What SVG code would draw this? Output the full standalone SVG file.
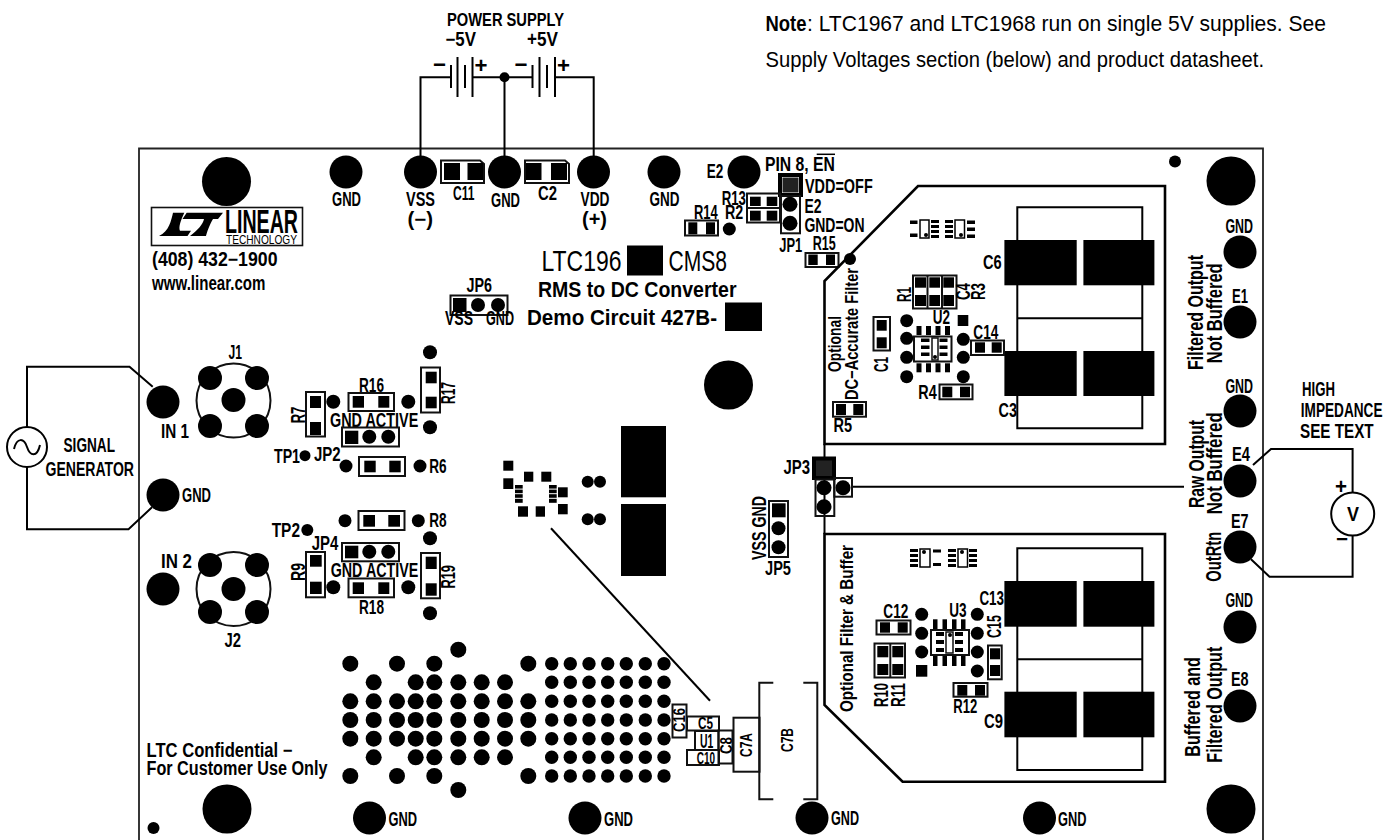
<svg xmlns="http://www.w3.org/2000/svg" width="1395" height="840" viewBox="0 0 1395 840">
<style>
text{font-family:"Liberation Sans Narrow","Liberation Sans",Arial,sans-serif;font-weight:bold;font-size:19.5px;fill:#000}
.n{font-weight:normal}
.s{font-size:16px}
.f{font-size:18px}
.m{font-size:22px}
.l{font-size:30px;font-weight:normal}
.w{fill:none;stroke:#000;stroke-width:2}
.o{fill:none;stroke:#111;stroke-width:2}
.z{fill:none;stroke:#000;stroke-width:2.6}
.e{stroke:#000;stroke-width:3;fill:none}
</style>
<defs>
<circle id="h" r="24.5"/>
<circle id="p" r="16.5"/>
<circle id="d" r="6.5"/>
<circle id="c" r="7"/>
<circle id="pin" r="12"/>
<circle id="v8" r="8"/>
<circle id="v6" r="6.7"/>
</defs>
<rect width="1395" height="840" fill="#fff"/>
<g id="board"><path d="M139 845V148.5H1263V845" fill="none" stroke="#222" stroke-width="1.8"/></g>

<g id="note">
<text class="m" x="765.5" y="31" textLength="41" lengthAdjust="spacingAndGlyphs">Note</text>
<text class="m n" x="807" y="31" textLength="519" lengthAdjust="spacingAndGlyphs">: LTC1967 and LTC1968 run on single 5V supplies. See</text>
<text class="m n" x="765.5" y="67" textLength="498.5" lengthAdjust="spacingAndGlyphs">Supply Voltages section (below) and product datasheet.</text>
</g>

<g id="connectors">
<path class="w" d="M420.5 172V77.3H451M472.5 77.3H532.5M555 77.3H593.7V172M504.5 77.3V172"/>
<path class="w" d="M451 65V88M457.5 57V97M465 65V88M472.5 57V97M532.5 65V88M539.5 57V97M547 65V88M555 57V97"/>
<circle cx="504.5" cy="77.3" r="5"/>
<path class="w" d="M152.7 386.7L129.5 366.7H27V427M27 467V529.3H128.5L152 507.3"/>
<path class="w" d="M1253 465L1271 449H1352.6V492.7M1352.6 535V576.7H1269.5L1251 559.3"/>
<path class="w" d="M852 486.7H1184"/>
<path class="w" d="M551 528.3L710 700.7"/>
<path class="w" d="M824.5 444V534"/>
</g>

<g id="power-supply">
<text class="f" x="447" y="25.5" textLength="117" lengthAdjust="spacingAndGlyphs">POWER SUPPLY</text>
<text x="445.5" y="46" textLength="30.5" lengthAdjust="spacingAndGlyphs">−5V</text>
<text x="527" y="46" textLength="31" lengthAdjust="spacingAndGlyphs">+5V</text>
<text x="433" y="72" textLength="13" lengthAdjust="spacingAndGlyphs" style="font-size:22px">−</text>
<text x="474.5" y="73" textLength="13" lengthAdjust="spacingAndGlyphs" style="font-size:22px">+</text>
<text x="514.5" y="72" textLength="13" lengthAdjust="spacingAndGlyphs" style="font-size:22px">−</text>
<text x="557" y="73" textLength="13" lengthAdjust="spacingAndGlyphs" style="font-size:22px">+</text>
</g>

<g id="signal-generator">
<circle class="w" cx="27" cy="447" r="20"/>
<path class="w" d="M14 449C17 437 24 438 27 447S37 458 40 445"/>
<text x="63.5" y="452" textLength="51.5" lengthAdjust="spacingAndGlyphs">SIGNAL</text>
<text x="45.5" y="475.7" textLength="88.5" lengthAdjust="spacingAndGlyphs">GENERATOR</text>
</g>

<g id="voltmeter">
<circle class="w" cx="1352.7" cy="514" r="21.5"/>
<text x="1347" y="521" textLength="12" lengthAdjust="spacingAndGlyphs">V</text>
<text x="1335" y="494" textLength="12" lengthAdjust="spacingAndGlyphs" style="font-size:22px">+</text>
<text x="1336" y="546" textLength="12" lengthAdjust="spacingAndGlyphs" style="font-size:20px">−</text>
<text x="1302" y="396" textLength="33" lengthAdjust="spacingAndGlyphs">HIGH</text>
<text x="1300.8" y="416.7" textLength="81.7" lengthAdjust="spacingAndGlyphs">IMPEDANCE</text>
<text x="1300" y="438" textLength="73.6" lengthAdjust="spacingAndGlyphs">SEE TEXT</text>
</g>

<g id="holes">
<use href="#h" x="226.5" y="181.5"/><use href="#h" x="1231" y="181"/><use href="#h" x="227" y="809"/><use href="#h" x="1231" y="809"/><use href="#h" x="728.5" y="385"/>
<circle cx="1175" cy="161.5" r="6"/><circle cx="153.5" cy="828" r="6"/>
</g>

<g id="logo">
<rect x="151.5" y="207.5" width="151" height="38" fill="#fff" stroke="#111" stroke-width="1.6"/>
<path d="M173 212.7H184.3C181 220 178.3 226.7 180 230.7H191L187.5 236H159C169 231.7 171.3 220 173 212.7Z"/>
<path d="M186.7 212.7H223L218 219H213C209 226 207 232 206 236H190C198 230 203 224 204 219H182.5Z"/>
<text x="225" y="232.5" textLength="73" lengthAdjust="spacingAndGlyphs" style="font-size:33px">LINEAR</text>
<text class="n" x="226" y="244" textLength="71" lengthAdjust="spacingAndGlyphs" style="font-size:13px">TECHNOLOGY</text>
</g>

<g id="contact">
<text x="152" y="266" textLength="125.5" lengthAdjust="spacingAndGlyphs">(408) 432−1900</text>
<text x="152" y="289.5" textLength="113.5" lengthAdjust="spacingAndGlyphs">www.linear.com</text>
</g>

<g id="title">
<text class="l" x="541.5" y="271" textLength="80" lengthAdjust="spacingAndGlyphs">LTC196</text>
<rect x="627" y="245.5" width="36" height="30"/>
<text class="l" x="668.5" y="271" textLength="58.5" lengthAdjust="spacingAndGlyphs">CMS8</text>
<text class="m" x="538" y="297" textLength="198.5" lengthAdjust="spacingAndGlyphs">RMS to DC Converter</text>
<text class="m" x="527" y="325" textLength="190" lengthAdjust="spacingAndGlyphs">Demo Circuit 427B-</text>
<rect x="725" y="302.5" width="37" height="28.5"/>
</g>

<g id="top-pads">
<use href="#p" x="346" y="172"/><use href="#p" x="420.5" y="172"/><use href="#p" x="504.5" y="172"/><use href="#p" x="593.5" y="172"/><use href="#p" x="664" y="172"/><use href="#p" x="744" y="172"/>
<text x="332" y="206" textLength="29" lengthAdjust="spacingAndGlyphs">GND</text>
<text x="406" y="206" textLength="29" lengthAdjust="spacingAndGlyphs">VSS</text>
<text x="407.5" y="226" textLength="25.5" lengthAdjust="spacingAndGlyphs">(−)</text>
<text x="491" y="207" textLength="29" lengthAdjust="spacingAndGlyphs">GND</text>
<text x="580.5" y="206" textLength="29" lengthAdjust="spacingAndGlyphs">VDD</text>
<text x="582" y="226" textLength="25" lengthAdjust="spacingAndGlyphs">(+)</text>
<text x="649.5" y="206" textLength="30" lengthAdjust="spacingAndGlyphs">GND</text>
<text x="706.7" y="178.3" textLength="16.6" lengthAdjust="spacingAndGlyphs">E2</text>
</g>

<g id="C11">
<path class="o" d="M441 160.5H480L484 164V183H441Z"/><rect x="444" y="163" width="16" height="17"/><rect x="467.5" y="163" width="15.5" height="17"/>
<text x="453" y="200" textLength="21.5" lengthAdjust="spacingAndGlyphs">C11</text>
</g>
<g id="C2">
<path class="o" d="M525 160.5H565L569 164V183H525Z"/><rect x="526" y="163" width="15.5" height="17"/><rect x="551" y="163" width="16" height="17"/>
<text x="538" y="200" textLength="19" lengthAdjust="spacingAndGlyphs">C2</text>
</g>

<g id="JP6">
<text x="466.5" y="292" textLength="25.5" lengthAdjust="spacingAndGlyphs">JP6</text>
<rect class="o" x="450.5" y="295.5" width="57" height="19.5"/><rect x="453" y="298" width="13.5" height="14"/><use href="#c" x="478" y="305"/><use href="#c" x="498" y="305"/>
<text x="445" y="325" textLength="28" lengthAdjust="spacingAndGlyphs">VSS</text>
<text x="486" y="325" textLength="28" lengthAdjust="spacingAndGlyphs">GND</text>
</g>

<g id="J1">
<text x="228.5" y="359" textLength="13.5" lengthAdjust="spacingAndGlyphs">J1</text>
<circle class="o" cx="233.5" cy="400.5" r="37"/>
<use href="#pin" x="233.5" y="400"/><use href="#pin" x="210" y="378"/><use href="#pin" x="257" y="378"/><use href="#pin" x="210" y="426"/><use href="#pin" x="257" y="426"/>
</g>
<g id="J2">
<text x="224.5" y="647" textLength="16.5" lengthAdjust="spacingAndGlyphs">J2</text>
<circle class="o" cx="233.5" cy="589" r="37"/>
<use href="#pin" x="233.5" y="589"/><use href="#pin" x="210" y="565"/><use href="#pin" x="257" y="565"/><use href="#pin" x="210" y="612"/><use href="#pin" x="257" y="612"/>
</g>
<g id="inputs">
<use href="#p" x="163" y="402"/><use href="#p" x="163" y="495"/><use href="#p" x="163" y="589"/>
<text x="161" y="438" textLength="28" lengthAdjust="spacingAndGlyphs">IN 1</text>
<text x="161" y="568" textLength="31" lengthAdjust="spacingAndGlyphs">IN 2</text>
<text x="182" y="501.5" textLength="29" lengthAdjust="spacingAndGlyphs">GND</text>
</g>

<g id="R7">
<rect class="o" x="306" y="392" width="19" height="44.5"/><rect x="310" y="396" width="11" height="12"/><rect x="310" y="422" width="11" height="13"/>
<text transform="translate(305,423.3) rotate(-90)" textLength="16.6" lengthAdjust="spacingAndGlyphs">R7</text>
</g>
<g id="R16">
<rect class="o" x="348.5" y="393" width="45.5" height="18"/><rect x="352.7" y="396" width="11.3" height="11.7"/><rect x="378.3" y="396" width="11" height="11.7"/>
<text x="359" y="391.5" textLength="25" lengthAdjust="spacingAndGlyphs">R16</text>
</g>
<g id="R17">
<rect class="o" x="421" y="367.5" width="19" height="45"/><rect x="425.7" y="371.7" width="11" height="11.6"/><rect x="425.7" y="396.7" width="11" height="11.6"/>
<text transform="translate(455,404) rotate(-90)" textLength="22" lengthAdjust="spacingAndGlyphs">R17</text>
</g>
<g id="test-dots-upper">
<use href="#c" x="333.3" y="401.7"/><use href="#c" x="408.3" y="401.7"/><use href="#c" x="430" y="352.3"/><use href="#c" x="430" y="427.3"/>
<use href="#d" x="346" y="466"/><use href="#d" x="420" y="466"/>
<circle cx="305" cy="455.7" r="5.5"/>
<text x="274" y="463" textLength="26" lengthAdjust="spacingAndGlyphs">TP1</text>
<text x="330" y="427" textLength="88.3" lengthAdjust="spacingAndGlyphs">GND ACTIVE</text>
</g>
<g id="JP2">
<rect class="o" x="342" y="427.5" width="57" height="19"/><rect x="345" y="430.7" width="13.3" height="13.3"/><use href="#c" x="369.3" y="436.7"/><use href="#c" x="388.3" y="436.7"/>
<text x="314" y="460.7" textLength="26.7" lengthAdjust="spacingAndGlyphs">JP2</text>
</g>
<g id="R6">
<rect class="o" x="359" y="457" width="46" height="19"/><rect x="364.3" y="460.7" width="11.4" height="11.6"/><rect x="389.3" y="460.7" width="11.4" height="11.6"/>
<text x="429.3" y="472.7" textLength="17.4" lengthAdjust="spacingAndGlyphs">R6</text>
</g>
<g id="R8">
<rect class="o" x="358.5" y="511" width="46" height="19"/><rect x="363.3" y="515" width="11.7" height="11.7"/><rect x="388.3" y="515" width="11.7" height="11.7"/>
<text x="429.3" y="526.7" textLength="17.4" lengthAdjust="spacingAndGlyphs">R8</text>
</g>
<g id="test-dots-lower">
<use href="#d" x="345" y="520.7"/><use href="#d" x="418.3" y="520.7"/><use href="#c" x="430" y="538.3"/><use href="#c" x="333.3" y="587.3"/><use href="#c" x="408.3" y="587.3"/><use href="#c" x="430" y="613.3"/>
<circle cx="307.3" cy="530" r="6"/>
<text x="271.7" y="537.3" textLength="28.3" lengthAdjust="spacingAndGlyphs">TP2</text>
<text x="330.7" y="577.3" textLength="87.6" lengthAdjust="spacingAndGlyphs">GND ACTIVE</text>
</g>
<g id="JP4">
<text x="311.7" y="550" textLength="26.6" lengthAdjust="spacingAndGlyphs">JP4</text>
<rect class="o" x="342" y="543" width="57" height="18.3"/><rect x="345" y="545.7" width="13.3" height="12.6"/><use href="#c" x="369.3" y="551.7"/><use href="#c" x="388.3" y="551.7"/>
</g>
<g id="R9">
<rect class="o" x="306" y="552" width="19" height="45.3"/><rect x="310" y="555" width="11.7" height="11.7"/><rect x="310" y="581.7" width="11.7" height="12.3"/>
<text transform="translate(305,581) rotate(-90)" textLength="18" lengthAdjust="spacingAndGlyphs">R9</text>
</g>
<g id="R18">
<rect class="o" x="348.5" y="578.5" width="45.5" height="18.8"/><rect x="352.7" y="582.3" width="11.3" height="11.7"/><rect x="378.3" y="582.3" width="11" height="11.7"/>
<text x="359" y="614" textLength="25" lengthAdjust="spacingAndGlyphs">R18</text>
</g>
<g id="R19">
<rect class="o" x="421" y="553" width="19" height="45.3"/><rect x="425.7" y="556.7" width="11" height="12.3"/><rect x="425.7" y="583.3" width="11" height="12.4"/>
<text transform="translate(455,588.5) rotate(-90)" textLength="23.5" lengthAdjust="spacingAndGlyphs">R19</text>
</g>

<g id="confidential">
<text x="146.5" y="757" textLength="146" lengthAdjust="spacingAndGlyphs">LTC Confidential −</text>
<text x="146.5" y="775" textLength="181" lengthAdjust="spacingAndGlyphs">For Customer Use Only</text>
</g>

<g id="middle-footprint">
<rect x="503.3" y="460.7" width="10" height="10"/><rect x="503.3" y="478.3" width="10" height="10.7"/><rect x="524" y="471.7" width="9.3" height="10"/><rect x="541.3" y="471.7" width="10" height="10"/><rect x="558" y="487.3" width="9.7" height="10"/><rect x="558" y="504" width="9.7" height="10.3"/><rect x="518" y="506.3" width="10" height="10.4"/><rect x="535.7" y="506.3" width="9.3" height="10.4"/>
<rect x="515" y="485" width="7.7" height="3.6"/><rect x="515" y="489.6" width="7.7" height="3.6"/><rect x="515" y="494.2" width="7.7" height="3.6"/><rect x="515" y="498.8" width="7.7" height="4"/>
<rect x="549" y="485" width="7.7" height="3.6"/><rect x="549" y="489.6" width="7.7" height="3.6"/><rect x="549" y="494.2" width="7.7" height="3.6"/><rect x="549" y="498.8" width="7.7" height="4"/>
<circle cx="587.7" cy="481.7" r="6"/><circle cx="600" cy="481.7" r="6"/><circle cx="587.7" cy="519.3" r="6"/><circle cx="600" cy="519.3" r="6"/>
<rect x="621" y="426" width="45" height="71.3"/><rect x="621" y="504" width="45" height="72"/>
</g>

<g id="via-field">
<use href="#v8" x="458.3" y="649.7"/><use href="#v8" x="458.3" y="790"/>
<use href="#v8" x="350.3" y="663.7"/><use href="#v8" x="397" y="663.7"/><use href="#v8" x="434.3" y="663.7"/><use href="#v8" x="528.3" y="663.7"/>
<use href="#v8" x="350.3" y="776"/><use href="#v8" x="397" y="776"/><use href="#v8" x="434.3" y="776"/><use href="#v8" x="528.3" y="776"/>
<use href="#v8" x="373.7" y="682.3"/><use href="#v8" x="415.7" y="682.3"/><use href="#v8" x="434.3" y="682.3"/><use href="#v8" x="458.3" y="682.3"/><use href="#v8" x="481.7" y="682.3"/><use href="#v8" x="505" y="682.3"/>
<use href="#v8" x="373.7" y="757.3"/><use href="#v8" x="415.7" y="757.3"/><use href="#v8" x="434.3" y="757.3"/><use href="#v8" x="458.3" y="757.3"/><use href="#v8" x="481.7" y="757.3"/><use href="#v8" x="505" y="757.3"/>
<use href="#v8" x="350.3" y="701.3"/><use href="#v8" x="373.7" y="701.3"/><use href="#v8" x="397" y="701.3"/><use href="#v8" x="415.7" y="701.3"/><use href="#v8" x="434.3" y="701.3"/><use href="#v8" x="458.3" y="701.3"/><use href="#v8" x="481.7" y="701.3"/><use href="#v8" x="505" y="701.3"/><use href="#v8" x="528.3" y="701.3"/>
<use href="#v8" x="350.3" y="720"/><use href="#v8" x="373.7" y="720"/><use href="#v8" x="397" y="720"/><use href="#v8" x="415.7" y="720"/><use href="#v8" x="434.3" y="720"/><use href="#v8" x="458.3" y="720"/><use href="#v8" x="481.7" y="720"/><use href="#v8" x="505" y="720"/><use href="#v8" x="528.3" y="720"/>
<use href="#v8" x="350.3" y="738.7"/><use href="#v8" x="373.7" y="738.7"/><use href="#v8" x="397" y="738.7"/><use href="#v8" x="415.7" y="738.7"/><use href="#v8" x="434.3" y="738.7"/><use href="#v8" x="458.3" y="738.7"/><use href="#v8" x="481.7" y="738.7"/><use href="#v8" x="505" y="738.7"/><use href="#v8" x="528.3" y="738.7"/>
<use href="#v6" x="551.7" y="663.7"/><use href="#v6" x="570.3" y="663.7"/><use href="#v6" x="589" y="663.7"/><use href="#v6" x="607.7" y="663.7"/><use href="#v6" x="626.3" y="663.7"/><use href="#v6" x="645.3" y="663.7"/><use href="#v6" x="664" y="663.7"/>
<use href="#v6" x="551.7" y="682.3"/><use href="#v6" x="570.3" y="682.3"/><use href="#v6" x="589" y="682.3"/><use href="#v6" x="607.7" y="682.3"/><use href="#v6" x="626.3" y="682.3"/><use href="#v6" x="645.3" y="682.3"/><use href="#v6" x="664" y="682.3"/>
<use href="#v6" x="551.7" y="701.3"/><use href="#v6" x="570.3" y="701.3"/><use href="#v6" x="589" y="701.3"/><use href="#v6" x="607.7" y="701.3"/><use href="#v6" x="626.3" y="701.3"/><use href="#v6" x="645.3" y="701.3"/><use href="#v6" x="664" y="701.3"/>
<use href="#v6" x="551.7" y="720"/><use href="#v6" x="570.3" y="720"/><use href="#v6" x="589" y="720"/><use href="#v6" x="607.7" y="720"/><use href="#v6" x="626.3" y="720"/><use href="#v6" x="645.3" y="720"/><use href="#v6" x="664" y="720"/>
<use href="#v6" x="551.7" y="738.7"/><use href="#v6" x="570.3" y="738.7"/><use href="#v6" x="589" y="738.7"/><use href="#v6" x="607.7" y="738.7"/><use href="#v6" x="626.3" y="738.7"/><use href="#v6" x="645.3" y="738.7"/><use href="#v6" x="664" y="738.7"/>
<use href="#v6" x="551.7" y="757.3"/><use href="#v6" x="570.3" y="757.3"/><use href="#v6" x="589" y="757.3"/><use href="#v6" x="607.7" y="757.3"/><use href="#v6" x="626.3" y="757.3"/><use href="#v6" x="645.3" y="757.3"/><use href="#v6" x="664" y="757.3"/>
<use href="#v6" x="551.7" y="776"/><use href="#v6" x="570.3" y="776"/><use href="#v6" x="589" y="776"/><use href="#v6" x="607.7" y="776"/><use href="#v6" x="626.3" y="776"/><use href="#v6" x="645.3" y="776"/><use href="#v6" x="664" y="776"/>
</g>

<g id="C16"><rect class="o" x="672.5" y="704.5" width="14" height="33"/><text class="s" transform="translate(685,732) rotate(-90)" textLength="24" lengthAdjust="spacingAndGlyphs">C16</text></g>
<g id="C5"><rect class="o" x="687" y="716.5" width="32" height="14"/><text class="s" x="698" y="729" textLength="15" lengthAdjust="spacingAndGlyphs">C5</text></g>
<g id="C8"><rect class="o" x="718.5" y="730.5" width="14" height="33"/><text class="s" transform="translate(732,754) rotate(-90)" textLength="17" lengthAdjust="spacingAndGlyphs">C8</text></g>
<g id="U1"><rect class="o" x="695" y="731" width="23.5" height="19"/><text x="700" y="748" textLength="13.3" lengthAdjust="spacingAndGlyphs">U1</text></g>
<g id="C10"><rect class="o" x="687" y="750" width="32" height="15"/><text class="s" x="696.7" y="764" textLength="18.3" lengthAdjust="spacingAndGlyphs">C10</text></g>
<g id="C7A"><rect class="o" x="733.5" y="717.7" width="26" height="54"/><text class="s" transform="translate(751.7,757) rotate(-90)" textLength="24" lengthAdjust="spacingAndGlyphs">C7A</text></g>
<g id="C7B"><path class="o" d="M773.3 682.7H759.3V799.3H773.3M803.3 682.7H817.3V799.3H803.3"/><text class="s" transform="translate(792.7,752) rotate(-90)" textLength="24" lengthAdjust="spacingAndGlyphs">C7B</text></g>

<g id="JP1">
<rect class="e" x="780" y="175" width="21" height="20" style="stroke-width:4"/><rect x="782.5" y="177.5" width="16" height="15" style="fill:#222"/>
<rect class="o" x="781" y="196" width="19" height="37.3"/><circle cx="790" cy="204.3" r="7.5"/><circle cx="790" cy="223.3" r="7.5"/>
<text x="765" y="170.7" textLength="70" lengthAdjust="spacingAndGlyphs">PIN 8, EN</text>
<path d="M816.7 154.3H835" stroke="#000" stroke-width="1.5"/>
<text x="805" y="193" textLength="67.7" lengthAdjust="spacingAndGlyphs">VDD=OFF</text>
<text x="804.4" y="213" textLength="17" lengthAdjust="spacingAndGlyphs">E2</text>
<text x="804.4" y="231.7" textLength="60.2" lengthAdjust="spacingAndGlyphs">GND=ON</text>
<text x="779.3" y="251.7" textLength="23" lengthAdjust="spacingAndGlyphs">JP1</text>
</g>
<g id="R13-R2">
<rect class="o" x="747" y="193.5" width="33" height="29"/><path class="o" d="M747 208H780"/>
<rect x="750" y="196.7" width="10.7" height="9.3"/><rect x="766.7" y="196.7" width="10.6" height="9.3"/><rect x="750" y="210.7" width="10.7" height="10"/><rect x="766.7" y="210.7" width="10.6" height="10"/>
<text x="721.7" y="205" textLength="24.3" lengthAdjust="spacingAndGlyphs">R13</text>
<text x="725" y="219.3" textLength="18.3" lengthAdjust="spacingAndGlyphs">R2</text>
</g>
<g id="R14">
<text x="694" y="219" textLength="23.7" lengthAdjust="spacingAndGlyphs">R14</text>
<rect class="o" x="685" y="220.5" width="33" height="15"/><rect x="688.3" y="222.3" width="9" height="12"/><rect x="706" y="222.3" width="9" height="12"/>
<use href="#d" x="729.3" y="229"/>
</g>
<g id="R15">
<text x="812.7" y="250" textLength="23" lengthAdjust="spacingAndGlyphs">R15</text>
<rect class="o" x="805.5" y="253" width="33" height="14"/><rect x="808.3" y="254.5" width="9.4" height="10.5"/><rect x="826" y="254.5" width="9" height="10.5"/>
</g>

<g id="filter-upper">
<path class="z" d="M918 186H1165V444H824.5V281Z"/>
<circle cx="850" cy="259" r="6"/>
<path class="w" d="M1017.3 240V207.3H1142.3V240M1017.3 285V428.3H1142.3V285M1017.3 318.3H1142.3"/>
<rect x="1004.4" y="240" width="72.3" height="45.3"/><rect x="1083.4" y="240" width="71" height="45.3"/><rect x="1004.4" y="351" width="72.3" height="45"/><rect x="1083.4" y="351" width="71" height="45"/>
<text x="983" y="269.3" textLength="18.7" lengthAdjust="spacingAndGlyphs">C6</text>
<text x="998.6" y="416.7" textLength="18.4" lengthAdjust="spacingAndGlyphs">C3</text>
<text class="f" transform="translate(840.7,372) rotate(-90)" textLength="56" lengthAdjust="spacingAndGlyphs">Optional</text>
<text class="f" transform="translate(858,400) rotate(-90)" textLength="132" lengthAdjust="spacingAndGlyphs">DC−Accurate  Filter</text>
<g fill="#000"><rect x="910" y="220.5" width="7.5" height="3.5"/><rect x="910" y="233.5" width="7.5" height="3.5"/><rect x="931" y="220" width="8" height="3"/><rect x="931" y="225" width="8" height="3"/><rect x="931" y="230" width="8" height="3"/><rect x="931" y="235" width="8" height="3"/><rect x="945" y="220" width="8" height="3"/><rect x="945" y="225" width="8" height="3"/><rect x="945" y="230" width="8" height="3"/><rect x="945" y="235" width="8" height="3"/><rect x="967" y="220.5" width="8" height="3.5"/><rect x="967" y="227.5" width="8" height="3.5"/><rect x="967" y="234.5" width="8" height="3.5"/></g>
<rect x="920" y="220" width="9" height="18" fill="#fff" stroke="#000" stroke-width="1.5"/><rect x="955" y="220" width="9.5" height="18" fill="#fff" stroke="#000" stroke-width="1.5"/><circle cx="926" cy="235" r="2"/><circle cx="961" cy="235" r="2"/>
</g>
<g id="R1-C4-R3">
<rect class="o" x="913" y="275.5" width="43.5" height="33"/><path class="o" d="M927.5 275.5V308.5M942 275.5V308.5"/>
<rect x="915" y="277.3" width="11" height="10.4"/><rect x="929.3" y="277.3" width="10.7" height="10.4"/><rect x="943.3" y="277.3" width="10.7" height="10.4"/><rect x="915" y="295" width="11" height="11"/><rect x="929.3" y="295" width="10.7" height="11"/><rect x="943.3" y="295" width="10.7" height="11"/>
<text transform="translate(910.7,302) rotate(-90)" textLength="15" lengthAdjust="spacingAndGlyphs">R1</text>
<text transform="translate(970,300) rotate(-90)" textLength="17" lengthAdjust="spacingAndGlyphs">C4</text>
<text transform="translate(985,300) rotate(-90)" textLength="17" lengthAdjust="spacingAndGlyphs">R3</text>
</g>
<g id="U2">
<use href="#d" x="906.7" y="320.7"/><use href="#d" x="906.7" y="338.3"/><use href="#d" x="906.7" y="357.3"/><use href="#d" x="906.7" y="376.7"/>
<rect x="957.7" y="315" width="10.6" height="11"/><use href="#d" x="963.3" y="339.3"/><use href="#d" x="963.3" y="357.3"/><use href="#d" x="963.3" y="376.7"/>
<text x="932.7" y="324" textLength="17.3" lengthAdjust="spacingAndGlyphs">U2</text>
<rect x="916.5" y="326" width="5" height="9"/><rect x="926" y="326" width="5" height="9"/><rect x="935.5" y="326" width="5" height="9"/><rect x="945" y="326" width="5" height="9"/>
<rect x="916.5" y="363.3" width="5" height="9"/><rect x="926" y="363.3" width="5" height="9"/><rect x="935.5" y="363.3" width="5" height="9"/><rect x="945" y="363.3" width="5" height="9"/>
<rect class="o" x="914" y="336.5" width="37.5" height="25"/>
<rect x="921" y="338.5" width="8.5" height="3.5"/><rect x="921" y="345.5" width="8.5" height="3.5"/><rect x="921" y="352.5" width="8.5" height="3.5"/>
<rect x="939.5" y="338.5" width="8" height="3.5"/><rect x="939.5" y="345.5" width="8" height="3.5"/><rect x="939.5" y="352.5" width="8" height="3.5"/>
<rect class="o" x="932" y="338" width="6" height="22" style="stroke-width:1.5"/><circle cx="935" cy="357" r="2"/>
</g>
<g id="C1"><rect class="o" x="873.5" y="317" width="16.5" height="33.5"/><rect x="876.7" y="320" width="10" height="10.7"/><rect x="876.7" y="337.3" width="10" height="11"/><text transform="translate(888.3,372) rotate(-90)" textLength="15" lengthAdjust="spacingAndGlyphs">C1</text></g>
<g id="C14"><text x="973.3" y="339.3" textLength="25" lengthAdjust="spacingAndGlyphs">C14</text><rect class="o" x="971" y="340.5" width="33" height="14.5"/><rect x="975" y="342.3" width="10" height="10.4"/><rect x="991.7" y="342.3" width="10" height="10.4"/></g>
<g id="R4"><text x="918.3" y="399.3" textLength="18.4" lengthAdjust="spacingAndGlyphs">R4</text><rect class="o" x="939.5" y="384.5" width="33" height="14.8"/><rect x="942.3" y="386.7" width="10" height="10.6"/><rect x="960" y="386.7" width="10" height="10.6"/></g>
<g id="R5"><rect class="o" x="833" y="402" width="33" height="14.7"/><rect x="836" y="404" width="10" height="11"/><rect x="853.3" y="404" width="10" height="11"/><text x="833.4" y="431.7" textLength="18.6" lengthAdjust="spacingAndGlyphs">R5</text></g>

<g id="JP3">
<rect x="814" y="458.5" width="20" height="19.5" fill="#222" stroke="#000" stroke-width="4"/>
<rect class="o" x="815.5" y="479.5" width="18.8" height="36.5"/><rect class="o" x="834.3" y="478" width="17.7" height="18.7"/>
<circle cx="824" cy="487.7" r="7.5"/><circle cx="824" cy="506.7" r="7.5"/><circle cx="843" cy="487.7" r="7.5"/>
<text x="783.4" y="474" textLength="26.6" lengthAdjust="spacingAndGlyphs">JP3</text>
</g>
<g id="JP5">
<rect class="o" x="769" y="501" width="19" height="56"/><rect x="772" y="503.3" width="13.6" height="14"/><use href="#c" x="778.5" y="528.3"/><use href="#c" x="778.5" y="547.3"/>
<text transform="translate(766.4,560) rotate(-90)" textLength="64" lengthAdjust="spacingAndGlyphs">VSS GND</text>
<text x="765" y="575" textLength="26" lengthAdjust="spacingAndGlyphs">JP5</text>
</g>

<g id="filter-lower">
<path class="z" d="M824.5 534H1165V781.7H902.6L824.5 705Z"/>
<path class="w" d="M1017.3 581V548.3H1142.3V581M1017.3 626V770H1142.3V737M1017.3 659.3H1142.3M1142.3 626V692"/>
<rect x="1004.4" y="581" width="72.3" height="45.7"/><rect x="1083.4" y="581" width="71" height="45.7"/><rect x="1004.4" y="691.7" width="72.3" height="45.6"/><rect x="1083.4" y="691.7" width="71" height="45.6"/>
<text x="979.4" y="605" textLength="24.6" lengthAdjust="spacingAndGlyphs">C13</text>
<text x="984" y="728" textLength="19" lengthAdjust="spacingAndGlyphs">C9</text>
<text class="f" transform="translate(853.3,712) rotate(-90)" textLength="167" lengthAdjust="spacingAndGlyphs">Optional Filter &amp; Buffer</text>
<g fill="#000"><rect x="910" y="549" width="8" height="3"/><rect x="910" y="554" width="8" height="3"/><rect x="910" y="559" width="8" height="3"/><rect x="910" y="564" width="8" height="3"/><rect x="933" y="549.5" width="8" height="3"/><rect x="933" y="563" width="8" height="3"/><rect x="948" y="549" width="8" height="3"/><rect x="948" y="554" width="8" height="3"/><rect x="948" y="559" width="8" height="3"/><rect x="948" y="564" width="8" height="3"/><rect x="969" y="549" width="8" height="3"/><rect x="969" y="554" width="8" height="3"/><rect x="969" y="559" width="8" height="3"/><rect x="969" y="564" width="8" height="3"/></g>
<rect x="920" y="549" width="10" height="18" fill="#fff" stroke="#000" stroke-width="1.5"/><rect x="958" y="549" width="9.5" height="18" fill="#fff" stroke="#000" stroke-width="1.5"/><circle cx="924" cy="552" r="2"/><circle cx="962" cy="552" r="2"/>
</g>
<g id="C12"><text x="883.3" y="618.3" textLength="25" lengthAdjust="spacingAndGlyphs">C12</text><rect class="o" x="876.5" y="620.5" width="34" height="14"/><rect x="880" y="622.3" width="10" height="10.4"/><rect x="897.7" y="622.3" width="10" height="10.4"/></g>
<g id="R10-R11">
<rect class="o" x="874.5" y="643.5" width="30.5" height="34"/><path class="o" d="M890.3 643.5V677.5"/>
<rect x="877.3" y="646" width="11" height="11.3"/><rect x="892.3" y="646" width="11" height="11.3"/><rect x="877.3" y="664" width="11" height="11"/><rect x="892.3" y="664" width="11" height="11"/>
<text transform="translate(888.3,707) rotate(-90)" textLength="24" lengthAdjust="spacingAndGlyphs">R10</text>
<text transform="translate(905,707) rotate(-90)" textLength="24" lengthAdjust="spacingAndGlyphs">R11</text>
</g>
<g id="U3">
<use href="#d" x="921.7" y="614.3"/><use href="#d" x="921.7" y="633.3"/><use href="#d" x="921.7" y="652"/><rect x="916" y="665" width="11.3" height="11.7"/>
<use href="#d" x="977.3" y="614.3"/><use href="#d" x="977.3" y="633.3"/><use href="#d" x="977.3" y="652"/><use href="#d" x="977.3" y="671"/>
<text x="949.3" y="617.3" textLength="17.4" lengthAdjust="spacingAndGlyphs">U3</text>
<rect x="933" y="619.3" width="4.5" height="10"/><rect x="942.5" y="619.3" width="4.5" height="10"/><rect x="952" y="619.3" width="4.5" height="10"/><rect x="961" y="619.3" width="4.5" height="10"/>
<rect x="933" y="656" width="4.5" height="10"/><rect x="942.5" y="656" width="4.5" height="10"/><rect x="952" y="656" width="4.5" height="10"/><rect x="961" y="656" width="4.5" height="10"/>
<rect class="o" x="931" y="630" width="38" height="25"/>
<rect x="936" y="632" width="8" height="4"/><rect x="936" y="640" width="8" height="4"/><rect x="936" y="648" width="8" height="4"/>
<rect x="955" y="632" width="8" height="4"/><rect x="955" y="640" width="8" height="4"/><rect x="955" y="648" width="8" height="4"/>
<rect class="o" x="946" y="632" width="7" height="21" style="stroke-width:1.5"/><circle cx="950" cy="635" r="2"/>
</g>
<g id="C15"><rect class="o" x="988" y="645.5" width="13.7" height="33.8"/><rect x="990" y="648.3" width="10" height="11"/><rect x="990" y="665" width="10" height="11"/><text transform="translate(1001,638) rotate(-90)" textLength="23" lengthAdjust="spacingAndGlyphs">C15</text></g>
<g id="R12"><rect class="o" x="953.5" y="683" width="34" height="13.7"/><rect x="957.3" y="685" width="10" height="10.7"/><rect x="975" y="685" width="10" height="10.7"/><text x="953.3" y="712.7" textLength="24" lengthAdjust="spacingAndGlyphs">R12</text></g>

<g id="right-pads">
<use href="#p" x="1240" y="252"/><use href="#p" x="1240" y="322"/><use href="#p" x="1240" y="411"/><use href="#p" x="1240" y="481"/><use href="#p" x="1240" y="547"/><use href="#p" x="1240" y="627"/><use href="#p" x="1240" y="706"/>
<text x="1225.4" y="233" textLength="27.6" lengthAdjust="spacingAndGlyphs">GND</text>
<text x="1232" y="302.7" textLength="16" lengthAdjust="spacingAndGlyphs">E1</text>
<text x="1225.4" y="392.7" textLength="27.6" lengthAdjust="spacingAndGlyphs">GND</text>
<text x="1232" y="460.7" textLength="18" lengthAdjust="spacingAndGlyphs">E4</text>
<text x="1231" y="528.3" textLength="17.6" lengthAdjust="spacingAndGlyphs">E7</text>
<text x="1225.4" y="606.7" textLength="27.6" lengthAdjust="spacingAndGlyphs">GND</text>
<text x="1231" y="686" textLength="17.6" lengthAdjust="spacingAndGlyphs">E8</text>
<text class="m" transform="translate(1202.6,370) rotate(-90)" textLength="115" lengthAdjust="spacingAndGlyphs">Filtered Output</text>
<text class="m" transform="translate(1221.8,363.3) rotate(-90)" textLength="100" lengthAdjust="spacingAndGlyphs">Not Buffered</text>
<text class="m" transform="translate(1204,508) rotate(-90)" textLength="88" lengthAdjust="spacingAndGlyphs">Raw Output</text>
<text class="m" transform="translate(1221.8,514.3) rotate(-90)" textLength="102" lengthAdjust="spacingAndGlyphs">Not Buffered</text>
<text class="m" transform="translate(1220.5,581.7) rotate(-90)" textLength="50" lengthAdjust="spacingAndGlyphs">OutRtn</text>
<text class="m" transform="translate(1199.5,756.7) rotate(-90)" textLength="99.7" lengthAdjust="spacingAndGlyphs">Buffered and</text>
<text class="m" transform="translate(1221.8,762.7) rotate(-90)" textLength="116" lengthAdjust="spacingAndGlyphs">Filtered Output</text>
</g>

<g id="bottom-pads">
<use href="#p" x="369.5" y="818"/><use href="#p" x="585" y="818"/><use href="#p" x="812" y="818"/><use href="#p" x="1039.5" y="818"/>
<text x="388.4" y="826" textLength="28.6" lengthAdjust="spacingAndGlyphs">GND</text>
<text x="604" y="825.5" textLength="29" lengthAdjust="spacingAndGlyphs">GND</text>
<text x="831" y="825" textLength="28" lengthAdjust="spacingAndGlyphs">GND</text>
<text x="1058" y="826" textLength="28.5" lengthAdjust="spacingAndGlyphs">GND</text>
</g>
</svg>
